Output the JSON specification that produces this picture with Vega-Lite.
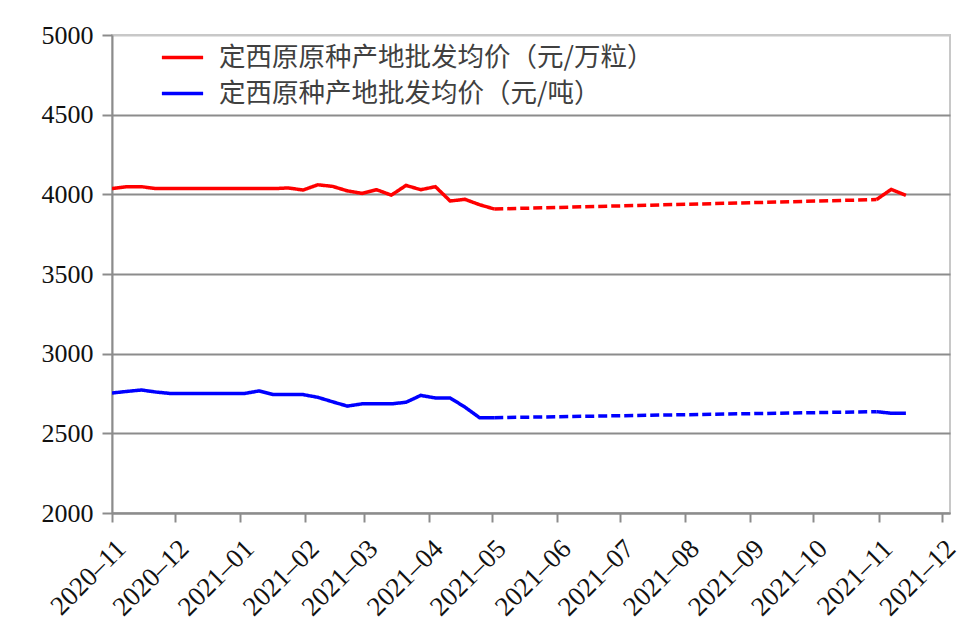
{
  "$schema": "https://vega.github.io/schema/vega-lite/v6.json",
  "width": 838,
  "height": 478,
  "autosize": {"type": "none"},
  "padding": {"left": 112, "top": 35, "right": 21, "bottom": 122},
  "background": "#ffffff",
  "config": {
    "view": {"stroke": "#c8c8c8", "strokeWidth": 2}
  },
  "data": {"values": [
    {"date": "2020-11-01", "series": "定西原原种产地批发均价（元/万粒）", "value": 4036, "seg": "r1", "dash": "solid"},
    {"date": "2020-11-08", "series": "定西原原种产地批发均价（元/万粒）", "value": 4048, "seg": "r1", "dash": "solid"},
    {"date": "2020-11-15", "series": "定西原原种产地批发均价（元/万粒）", "value": 4048, "seg": "r1", "dash": "solid"},
    {"date": "2020-11-22", "series": "定西原原种产地批发均价（元/万粒）", "value": 4036, "seg": "r1", "dash": "solid"},
    {"date": "2020-11-29", "series": "定西原原种产地批发均价（元/万粒）", "value": 4036, "seg": "r1", "dash": "solid"},
    {"date": "2020-12-06", "series": "定西原原种产地批发均价（元/万粒）", "value": 4036, "seg": "r1", "dash": "solid"},
    {"date": "2020-12-13", "series": "定西原原种产地批发均价（元/万粒）", "value": 4036, "seg": "r1", "dash": "solid"},
    {"date": "2020-12-20", "series": "定西原原种产地批发均价（元/万粒）", "value": 4036, "seg": "r1", "dash": "solid"},
    {"date": "2020-12-27", "series": "定西原原种产地批发均价（元/万粒）", "value": 4036, "seg": "r1", "dash": "solid"},
    {"date": "2021-01-03", "series": "定西原原种产地批发均价（元/万粒）", "value": 4036, "seg": "r1", "dash": "solid"},
    {"date": "2021-01-10", "series": "定西原原种产地批发均价（元/万粒）", "value": 4036, "seg": "r1", "dash": "solid"},
    {"date": "2021-01-17", "series": "定西原原种产地批发均价（元/万粒）", "value": 4036, "seg": "r1", "dash": "solid"},
    {"date": "2021-01-24", "series": "定西原原种产地批发均价（元/万粒）", "value": 4040, "seg": "r1", "dash": "solid"},
    {"date": "2021-01-31", "series": "定西原原种产地批发均价（元/万粒）", "value": 4027, "seg": "r1", "dash": "solid"},
    {"date": "2021-02-07", "series": "定西原原种产地批发均价（元/万粒）", "value": 4060, "seg": "r1", "dash": "solid"},
    {"date": "2021-02-14", "series": "定西原原种产地批发均价（元/万粒）", "value": 4050, "seg": "r1", "dash": "solid"},
    {"date": "2021-02-21", "series": "定西原原种产地批发均价（元/万粒）", "value": 4022, "seg": "r1", "dash": "solid"},
    {"date": "2021-02-28", "series": "定西原原种产地批发均价（元/万粒）", "value": 4006, "seg": "r1", "dash": "solid"},
    {"date": "2021-03-07", "series": "定西原原种产地批发均价（元/万粒）", "value": 4029, "seg": "r1", "dash": "solid"},
    {"date": "2021-03-14", "series": "定西原原种产地批发均价（元/万粒）", "value": 3995, "seg": "r1", "dash": "solid"},
    {"date": "2021-03-21", "series": "定西原原种产地批发均价（元/万粒）", "value": 4056, "seg": "r1", "dash": "solid"},
    {"date": "2021-03-28", "series": "定西原原种产地批发均价（元/万粒）", "value": 4029, "seg": "r1", "dash": "solid"},
    {"date": "2021-04-04", "series": "定西原原种产地批发均价（元/万粒）", "value": 4048, "seg": "r1", "dash": "solid"},
    {"date": "2021-04-11", "series": "定西原原种产地批发均价（元/万粒）", "value": 3958, "seg": "r1", "dash": "solid"},
    {"date": "2021-04-18", "series": "定西原原种产地批发均价（元/万粒）", "value": 3969, "seg": "r1", "dash": "solid"},
    {"date": "2021-04-25", "series": "定西原原种产地批发均价（元/万粒）", "value": 3935, "seg": "r1", "dash": "solid"},
    {"date": "2021-05-02", "series": "定西原原种产地批发均价（元/万粒）", "value": 3908, "seg": "r1", "dash": "solid"},
    {"date": "2021-05-02", "series": "定西原原种产地批发均价（元/万粒）", "value": 3908, "seg": "r2", "dash": "dashed"},
    {"date": "2021-10-31", "series": "定西原原种产地批发均价（元/万粒）", "value": 3967, "seg": "r2", "dash": "dashed"},
    {"date": "2021-10-31", "series": "定西原原种产地批发均价（元/万粒）", "value": 3967, "seg": "r3", "dash": "solid"},
    {"date": "2021-11-07", "series": "定西原原种产地批发均价（元/万粒）", "value": 4031, "seg": "r3", "dash": "solid"},
    {"date": "2021-11-14", "series": "定西原原种产地批发均价（元/万粒）", "value": 3994, "seg": "r3", "dash": "solid"},
    {"date": "2020-11-01", "series": "定西原种产地批发均价（元/吨）", "value": 2753, "seg": "b1", "dash": "solid"},
    {"date": "2020-11-08", "series": "定西原种产地批发均价（元/吨）", "value": 2763, "seg": "b1", "dash": "solid"},
    {"date": "2020-11-15", "series": "定西原种产地批发均价（元/吨）", "value": 2772, "seg": "b1", "dash": "solid"},
    {"date": "2020-11-22", "series": "定西原种产地批发均价（元/吨）", "value": 2759, "seg": "b1", "dash": "solid"},
    {"date": "2020-11-29", "series": "定西原种产地批发均价（元/吨）", "value": 2750, "seg": "b1", "dash": "solid"},
    {"date": "2020-12-06", "series": "定西原种产地批发均价（元/吨）", "value": 2750, "seg": "b1", "dash": "solid"},
    {"date": "2020-12-13", "series": "定西原种产地批发均价（元/吨）", "value": 2750, "seg": "b1", "dash": "solid"},
    {"date": "2020-12-20", "series": "定西原种产地批发均价（元/吨）", "value": 2750, "seg": "b1", "dash": "solid"},
    {"date": "2020-12-27", "series": "定西原种产地批发均价（元/吨）", "value": 2750, "seg": "b1", "dash": "solid"},
    {"date": "2021-01-03", "series": "定西原种产地批发均价（元/吨）", "value": 2750, "seg": "b1", "dash": "solid"},
    {"date": "2021-01-10", "series": "定西原种产地批发均价（元/吨）", "value": 2766, "seg": "b1", "dash": "solid"},
    {"date": "2021-01-17", "series": "定西原种产地批发均价（元/吨）", "value": 2743, "seg": "b1", "dash": "solid"},
    {"date": "2021-01-24", "series": "定西原种产地批发均价（元/吨）", "value": 2743, "seg": "b1", "dash": "solid"},
    {"date": "2021-01-31", "series": "定西原种产地批发均价（元/吨）", "value": 2743, "seg": "b1", "dash": "solid"},
    {"date": "2021-02-07", "series": "定西原种产地批发均价（元/吨）", "value": 2726, "seg": "b1", "dash": "solid"},
    {"date": "2021-02-14", "series": "定西原种产地批发均价（元/吨）", "value": 2698, "seg": "b1", "dash": "solid"},
    {"date": "2021-02-21", "series": "定西原种产地批发均价（元/吨）", "value": 2671, "seg": "b1", "dash": "solid"},
    {"date": "2021-02-28", "series": "定西原种产地批发均价（元/吨）", "value": 2685, "seg": "b1", "dash": "solid"},
    {"date": "2021-03-07", "series": "定西原种产地批发均价（元/吨）", "value": 2685, "seg": "b1", "dash": "solid"},
    {"date": "2021-03-14", "series": "定西原种产地批发均价（元/吨）", "value": 2685, "seg": "b1", "dash": "solid"},
    {"date": "2021-03-21", "series": "定西原种产地批发均价（元/吨）", "value": 2695, "seg": "b1", "dash": "solid"},
    {"date": "2021-03-28", "series": "定西原种产地批发均价（元/吨）", "value": 2738, "seg": "b1", "dash": "solid"},
    {"date": "2021-04-04", "series": "定西原种产地批发均价（元/吨）", "value": 2722, "seg": "b1", "dash": "solid"},
    {"date": "2021-04-11", "series": "定西原种产地批发均价（元/吨）", "value": 2722, "seg": "b1", "dash": "solid"},
    {"date": "2021-04-18", "series": "定西原种产地批发均价（元/吨）", "value": 2665, "seg": "b1", "dash": "solid"},
    {"date": "2021-04-25", "series": "定西原种产地批发均价（元/吨）", "value": 2598, "seg": "b1", "dash": "solid"},
    {"date": "2021-05-02", "series": "定西原种产地批发均价（元/吨）", "value": 2598, "seg": "b1", "dash": "solid"},
    {"date": "2021-05-02", "series": "定西原种产地批发均价（元/吨）", "value": 2598, "seg": "b2", "dash": "dashed"},
    {"date": "2021-10-31", "series": "定西原种产地批发均价（元/吨）", "value": 2636, "seg": "b2", "dash": "dashed"},
    {"date": "2021-10-31", "series": "定西原种产地批发均价（元/吨）", "value": 2636, "seg": "b3", "dash": "solid"},
    {"date": "2021-11-07", "series": "定西原种产地批发均价（元/吨）", "value": 2626, "seg": "b3", "dash": "solid"},
    {"date": "2021-11-14", "series": "定西原种产地批发均价（元/吨）", "value": 2626, "seg": "b3", "dash": "solid"}
  ]},
  "mark": {"type": "line", "strokeWidth": 3.5, "clip": true},
  "encoding": {
    "x": {
      "field": "date",
      "type": "temporal",
      "scale": {"type": "utc", "domain": [{"year": 2020, "month": 11, "date": 1, "utc": true}, {"year": 2021, "month": 12, "date": 5, "utc": true}]},
      "axis": {
        "title": null,
        "grid": false,
        "labelExpr": "utcFormat(datum.value, '%Y–%m')",
        "values": [
          {"year": 2020, "month": 11, "date": 1, "utc": true},
          {"year": 2020, "month": 12, "date": 1, "utc": true},
          {"year": 2021, "month": 1, "date": 1, "utc": true},
          {"year": 2021, "month": 2, "date": 1, "utc": true},
          {"year": 2021, "month": 3, "date": 1, "utc": true},
          {"year": 2021, "month": 4, "date": 1, "utc": true},
          {"year": 2021, "month": 5, "date": 1, "utc": true},
          {"year": 2021, "month": 6, "date": 1, "utc": true},
          {"year": 2021, "month": 7, "date": 1, "utc": true},
          {"year": 2021, "month": 8, "date": 1, "utc": true},
          {"year": 2021, "month": 9, "date": 1, "utc": true},
          {"year": 2021, "month": 10, "date": 1, "utc": true},
          {"year": 2021, "month": 11, "date": 1, "utc": true},
          {"year": 2021, "month": 12, "date": 1, "utc": true}
        ],
        "labelFont": "Liberation Serif, Times New Roman, serif",
        "labelColor": "#111111",
        "labelAngle": -45,
        "labelAlign": "right",
        "labelBaseline": "top",
        "labelFontSize": 27,
        "labelPadding": 13,
        "labelOverlap": false,
        "labelFlush": false,
        "domainColor": "#8c8c8c",
        "domainWidth": 2,
        "tickColor": "#8c8c8c",
        "tickWidth": 2,
        "tickSize": 9
      }
    },
    "y": {
      "field": "value",
      "type": "quantitative",
      "scale": {"domain": [2000, 5000], "nice": false, "zero": false},
      "axis": {
        "title": null,
        "format": "d",
        "values": [2000, 2500, 3000, 3500, 4000, 4500, 5000],
        "labelFont": "Liberation Serif, Times New Roman, serif",
        "labelColor": "#111111",
        "labelFontSize": 26,
        "labelPadding": 9,
        "domainColor": "#8c8c8c",
        "domainWidth": 2,
        "tickColor": "#8c8c8c",
        "tickWidth": 2,
        "tickSize": 10,
        "grid": true,
        "gridColor": {"condition": {"test": "datum.value == 5000", "value": "#c8c8c8"}, "value": "#8c8c8c"},
        "gridWidth": 2
      }
    },
    "color": {
      "field": "series",
      "type": "nominal",
      "scale": {"domain": ["定西原原种产地批发均价（元/万粒）", "定西原种产地批发均价（元/吨）"], "range": ["#ff0000", "#0000ff"]},
      "legend": {
        "title": null,
        "orient": "none",
        "legendX": 48,
        "legendY": 0,
        "symbolType": "stroke",
        "symbolStrokeWidth": 3.5,
        "symbolSize": 1700,
        "labelFont": "Noto Sans CJK SC",
        "labelFontSize": 26.5,
        "labelColor": "#404040",
        "labelOffset": 14,
        "labelLimit": 600,
        "rowPadding": -6
      }
    },
    "detail": {"field": "seg"},
    "strokeDash": {
      "field": "dash",
      "type": "nominal",
      "scale": {"domain": ["solid", "dashed"], "range": [[1, 0], [9, 4]]},
      "legend": null
    }
  }
}
